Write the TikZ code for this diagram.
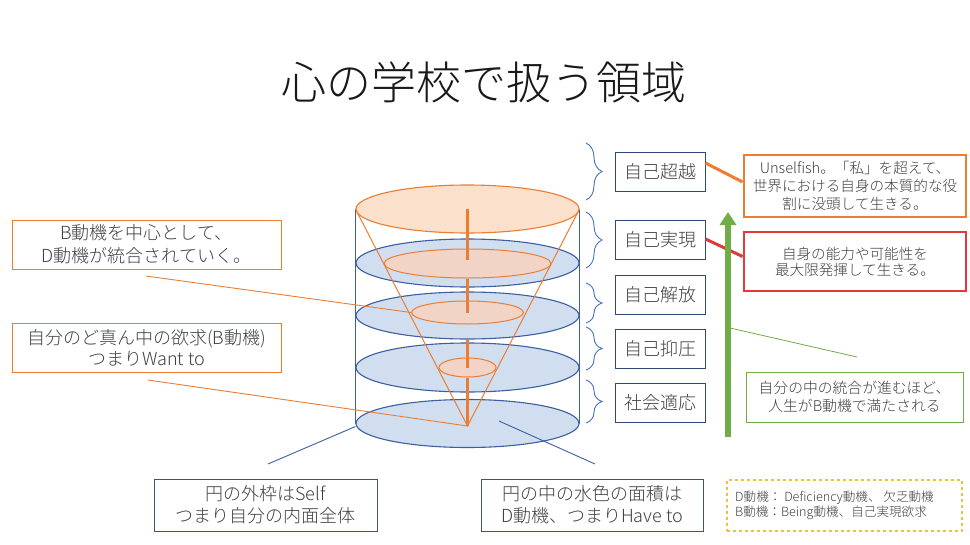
\documentclass[tikz,border=0pt]{standalone}
\usepackage{fontspec}
\IfFontExistsTF{Noto Sans CJK JP Light}{\setmainfont{Noto Sans CJK JP Light}}{\setmainfont{Noto Sans CJK JP}}
\usetikzlibrary{shapes.geometric,decorations.pathreplacing,arrows.meta,calc}
\definecolor{bluefill}{RGB}{208,222,240}
\definecolor{blueline}{RGB}{60,95,160}
\definecolor{orline}{RGB}{237,125,49}
\definecolor{topfill}{RGB}{251,224,204}
\definecolor{innerfill}{RGB}{242,212,198}
\definecolor{navy}{RGB}{47,72,122}
\definecolor{slate}{RGB}{68,84,106}
\definecolor{txt}{RGB}{64,64,64}
\definecolor{grn}{RGB}{112,173,71}
\definecolor{redb}{RGB}{224,58,58}
\definecolor{gold}{RGB}{244,190,66}
\definecolor{bracec}{RGB}{68,114,196}
\tikzset{
  disc/.style={ellipse, draw=blueline, fill=bluefill, line width=1.1pt, inner sep=0pt},
  core/.style={ellipse, draw=orline, fill=innerfill, line width=1pt, inner sep=0pt},
  lvl/.style={draw=navy, line width=1pt, minimum width=90pt, minimum height=39pt, inner sep=0pt, text=txt, font=\fontsize{18}{22}\selectfont},
  note/.style={inner sep=0pt, text=txt, align=center},
  brc/.style={draw=bracec, line width=0.9pt, decorate, decoration={brace, amplitude=16pt, aspect=0.5}},
  pole/.style={draw=orline, line width=3.8pt},
}
\begin{document}
\begin{tikzpicture}[x=1pt,y=-1pt]
\useasboundingbox (0,0) rectangle (970,544);
\fill[white] (0,0) rectangle (970,544);
% title
\node[text=black!90, font=\fontsize{45}{50}\selectfont, inner sep=0pt] (title) at (484,82) {心の学校で扱う領域};
% discs
\node[ellipse, draw=orline, fill=topfill, line width=1.1pt, inner sep=0pt, minimum width=223pt, minimum height=48pt] (top) at (467.5,209) {};
\node[disc, minimum width=223pt, minimum height=48pt] (b2) at (467.5,263) {};
\node[core, minimum width=167pt, minimum height=29pt] (i2) at (467.5,263.5) {};
\node[disc, minimum width=223pt, minimum height=47pt] (b3) at (467.5,315.5) {};
\node[core, minimum width=112pt, minimum height=23pt] (i3) at (467.5,312.5) {};
\node[disc, minimum width=223pt, minimum height=49pt] (b4) at (467.5,367.5) {};
\node[core, minimum width=57pt, minimum height=19pt] (i4) at (467.5,367.5) {};
\node[disc, minimum width=223pt, minimum height=48pt] (b5) at (467.5,423.5) {};
% cylinder sides
\draw[blueline, line width=1pt] (top.west) -- (b5.west);
\draw[blueline, line width=1pt] (top.east) -- (b5.east);
% cone
\coordinate (apex) at (467.5,426);
\draw[orline, line width=1pt] (top.west) -- (apex) -- (top.east);
% poles
\draw[pole] (top.center) -- ([yshift=4pt]i2.center);
\draw[pole] (i2.south) -- (i3.center);
\draw[pole] (b3.south) -- (i4.center);
\draw[pole] (i4.south) -- (apex);
% braces
\draw[brc] (586,143) -- (586,200);
\draw[brc] (586,212) -- (586,268);
\draw[brc] (586,283) -- (586,323);
\draw[brc] (586,327) -- (586,370);
\draw[brc] (586,380) -- (586,423);
% level boxes
\node[lvl] (l1) at (660,172) {自己超越};
\node[lvl] (l2) at (660,240) {自己実現};
\node[lvl] (l3) at (660,294.5) {自己解放};
\node[lvl] (l4) at (660,348.5) {自己抑圧};
\node[lvl] (l5) at (660,402.5) {社会適応};
% right notes
\node[note, draw=orline, line width=2.8pt, minimum width=222pt, minimum height=62pt, font=\fontsize{14.6}{18}\selectfont] (us) at (855,186) {Unselfish。「私」を超えて、\\世界における自身の本質的な役\\割に没頭して生きる。};
\node[note, draw=redb, line width=2.8pt, minimum width=222pt, minimum height=59pt, font=\fontsize{14.6}{16}\selectfont] (rb) at (855,261.5) {自身の能力や可能性を\\最大限発揮して生きる。};
\draw[orline, line width=3pt] ([yshift=9pt]l1.east) -- ([yshift=4pt]us.west);
\draw[redb, line width=3pt] ([yshift=1pt]l2.east) -- ([yshift=5pt]rb.west);
% green arrow
\coordinate (ga1) at (728,437);
\coordinate (ga2) at (728,212);
\draw[grn, line width=6pt, -{Triangle[width=16pt,length=13pt]}] (ga1) -- (ga2);
\node[note, draw=grn, line width=1pt, minimum width=217pt, minimum height=50pt, font=\fontsize{14.8}{17.5}\selectfont] (gb) at (854.5,397) {自分の中の統合が進むほど、\\人生がB動機で満たされる};
\coordinate (gs) at (730,328);
\coordinate (ge) at (857,357);
\draw[grn, line width=0.8pt] (gs) -- (ge);
% left notes
\node[note, draw=orline, line width=1pt, minimum width=269pt, minimum height=49pt, font=\fontsize{18}{23}\selectfont] (lb1) at (146.5,244.5) {B動機を中心として、\\D動機が統合されていく。};
\node[note, draw=orline, line width=1pt, minimum width=269pt, minimum height=49pt, font=\fontsize{18}{21}\selectfont] (lb2) at (146.5,347.5) {自分のど真ん中の欲求(B動機)\\つまりWant to};
\coordinate (c1) at (146,276);
\coordinate (c2) at (148,380);
\draw[orline, line width=0.9pt] (c1) -- (i3.west);
\draw[orline, line width=0.9pt] (c2) -- (apex);
% bottom notes
\node[note, draw=slate, line width=1pt, minimum width=223pt, minimum height=52pt, font=\fontsize{18}{22}\selectfont] (bb1) at (265.5,505) {円の外枠はSelf\\つまり自分の内面全体};
\node[note, draw=slate, line width=1pt, minimum width=222pt, minimum height=52pt, font=\fontsize{18}{22}\selectfont] (bb2) at (592,505) {円の中の水色の面積は\\D動機、つまりHave to};
\coordinate (d1) at (268,464);
\coordinate (d2) at (595,464);
\coordinate (d2e) at (499,421);
\draw[blueline, line width=0.9pt] (d1) -- ([yshift=-3pt]b5.west);
\draw[blueline, line width=0.9pt] (d2) -- (d2e);
% legend
\node[draw=gold, dashed, line width=2pt, minimum width=235pt, minimum height=51pt, inner sep=0pt] (lg) at (844.5,505.5) {};
\node[anchor=west, inner sep=0pt, align=left, text=txt, font=\fontsize{12.6}{15}\selectfont] (lgt) at (735,505.5) {D動機： Deficiency動機、 欠乏動機\\B動機：Being動機、自己実現欲求};
\end{tikzpicture}
\end{document}
